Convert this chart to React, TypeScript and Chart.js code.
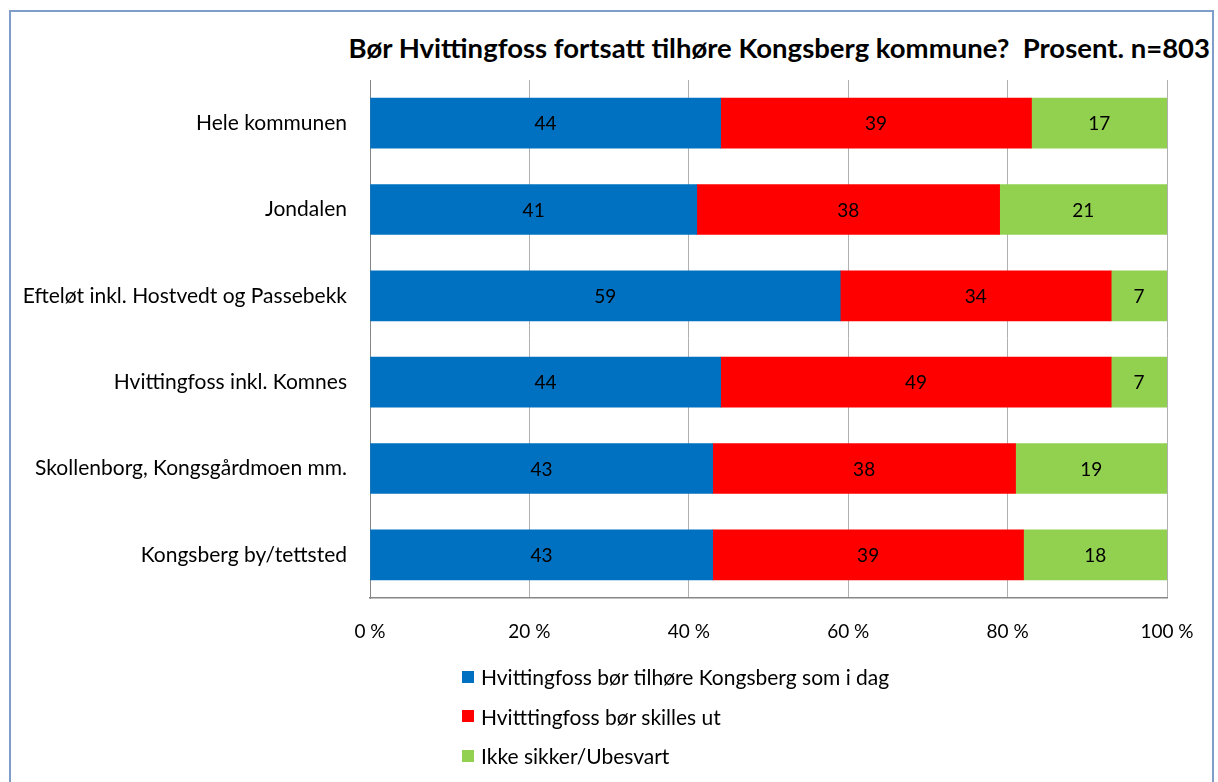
import React, { useEffect, useRef } from "react";
import { Chart, registerables } from "chart.js";

Chart.register(...registerables);

const categories = [
  "Hele kommunen",
  "Jondalen",
  "Efteløt inkl. Hostvedt og Passebekk",
  "Hvittingfoss inkl. Komnes",
  "Skollenborg, Kongsgårdmoen mm.",
  "Kongsberg by/tettsted",
];
const seriesNames = [
  "Hvittingfoss bør tilhøre Kongsberg som i dag",
  "Hvitttingfoss bør skilles ut",
  "Ikke sikker/Ubesvart",
];
const tilhore = [44, 41, 59, 44, 43, 43];
const skilles = [39, 38, 34, 49, 38, 39];
const ikkeSikker = [17, 21, 7, 7, 19, 18];
const colors = ["#0070C0", "#FF0000", "#92D050"];
const xTicks = [0, 20, 40, 60, 80, 100];
const title = "Bør Hvittingfoss fortsatt tilhøre Kongsberg kommune?  Prosent. n=803";

const FONT = "Lato, 'Open Sans', sans-serif";

const valueLabels = {
  id: "valueLabels",
  afterDatasetsDraw(chart: any) {
    const ctx = chart.ctx;
    ctx.save();
    ctx.font = `19px ${FONT}`;
    ctx.fillStyle = "#000";
    ctx.textAlign = "center";
    ctx.textBaseline = "middle";
    chart.data.datasets.forEach((ds: any, i: number) => {
      const meta = chart.getDatasetMeta(i);
      meta.data.forEach((el: any, j: number) => {
        const p = el.getCenterPoint();
        ctx.fillText(String(ds.data[j]), p.x, p.y + 1);
      });
    });
    ctx.restore();
  },
};

export default function App() {
  const ref = useRef<HTMLCanvasElement>(null);
  useEffect(() => {
    const datasets = [tilhore, skilles, ikkeSikker].map((d, i) => ({
      label: seriesNames[i],
      data: d,
      backgroundColor: colors[i],
      borderWidth: 0,
      barThickness: 50,
    }));
    const chart = new Chart(ref.current!, {
      type: "bar",
      data: { labels: categories, datasets },
      options: {
        indexAxis: "y",
        animation: false,
        responsive: false,
        layout: { padding: { left: 10, right: 51, top: 80, bottom: 0 } },
        plugins: { legend: { display: false }, tooltip: { enabled: false }, title: { display: false } },
        scales: {
          x: {
            stacked: true,
            min: 0,
            max: 100,
            afterBuildTicks: (s: any) => {
              s.ticks = xTicks.map((v) => ({ value: v }));
            },
            afterFit: (s: any) => {
              s.height = 62;
            },
            ticks: {
              padding: 22,
              color: "#000",
              font: { family: FONT, size: 19 },
              callback: (v: any) => `${v} %`,
              maxRotation: 0,
            },
            grid: { color: "#b0b0b0", drawTicks: false, lineWidth: 1 },
            border: { color: "#868686", width: 1.5 },
          },
          y: {
            stacked: true,
            afterFit: (s: any) => {
              s.width = 360;
            },
            ticks: {
              padding: 23,
              color: "#000",
              font: { family: FONT, size: 21 },
            },
            grid: { display: false, drawTicks: false },
            border: { color: "#868686", width: 1 },
          },
        },
      },
      plugins: [valueLabels],
    });
    return () => chart.destroy();
  }, []);

  return (
    <div style={{ position: "fixed", left: 0, top: 0, width: 1218, height: 782, background: "#fff", overflow: "hidden", fontFamily: FONT }}>
      <div
        style={{
          position: "absolute",
          left: 9,
          top: 10,
          width: 1205,
          height: 790,
          border: "2px solid #7f9dc9",
          boxSizing: "border-box",
        }}
      />
      <div
        style={{
          position: "absolute",
          right: 8,
          top: 28,
          fontWeight: 700,
          fontSize: 27.5,
          color: "#000",
          whiteSpace: "pre",
          lineHeight: "40px",
        }}
      >
        {title}
      </div>
      <canvas ref={ref} width={1218} height={660} style={{ position: "absolute", left: 0, top: 0 }} />
      <div style={{ position: "absolute", left: 462, top: 657 }}>
        {seriesNames.map((n, i) => (
          <div key={n} style={{ display: "flex", alignItems: "center", height: 39.5 }}>
            <span style={{ width: 12, height: 12, background: colors[i], display: "inline-block", marginRight: 7 }} />
            <span style={{ fontSize: 21, color: "#000" }}>{n}</span>
          </div>
        ))}
      </div>
    </div>
  );
}
